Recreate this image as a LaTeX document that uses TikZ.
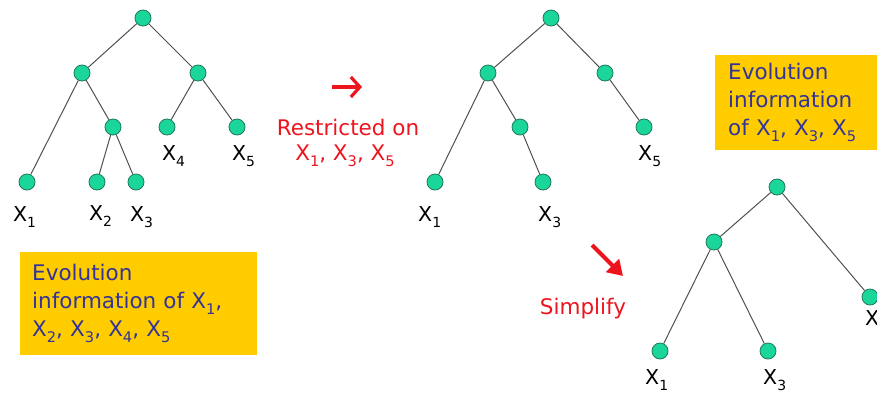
\documentclass[tikz,border=0pt]{standalone}
\usepackage{fontspec}
\setmainfont{DejaVu Sans}
\usetikzlibrary{arrows.meta}
\definecolor{nodegreen}{RGB}{26,214,154}
\definecolor{nodeborder}{RGB}{30,120,90}
\definecolor{edgegray}{RGB}{80,80,80}
\definecolor{boxgold}{RGB}{255,204,0}
\definecolor{textblue}{RGB}{51,51,153}
\definecolor{arrowred}{RGB}{238,20,30}
\newcommand{\Xsub}[1]{X\raisebox{-0.3em}{\scalebox{0.68}{#1}}}
\tikzset{
  tn/.style={circle, draw=nodeborder, fill=nodegreen, minimum size=16pt, inner sep=0pt, line width=0.8pt},
  edge/.style={draw=edgegray, line width=1pt},
  lbl/.style={anchor=base west, inner sep=0pt, text=black, font=\fontsize{20.5}{24}\selectfont},
  infobox/.style={fill=boxgold, text=textblue, align=left, anchor=north west, inner xsep=12pt, inner ysep=0pt, font=\fontsize{21.5}{28}\selectfont},
  redtxt/.style={text=arrowred, anchor=base, inner sep=0pt, font=\fontsize{21.5}{26}\selectfont},
  redarrow/.style={draw=arrowred, line width=3.2pt}
}
\begin{document}
\begin{tikzpicture}[x=1pt,y=-1pt]
\useasboundingbox (0,0) rectangle (877,394);
\clip (0,0) rectangle (877,394);
% tree 1
\node[tn] (a0) at (143,18) {};
\node[tn] (a1) at (82,73) {};
\node[tn] (a2) at (198,73) {};
\node[tn] (a3) at (113,127) {};
\node[tn] (a4) at (167,127) {};
\node[tn] (a5) at (237,127) {};
\node[tn] (a6) at (27,182) {};
\node[tn] (a7) at (97,182) {};
\node[tn] (a8) at (136,182) {};
\draw[edge] (a0) -- (a1);
\draw[edge] (a0) -- (a2);
\draw[edge] (a1) -- (a6);
\draw[edge] (a1) -- (a3);
\draw[edge] (a3) -- (a7);
\draw[edge] (a3) -- (a8);
\draw[edge] (a2) -- (a4);
\draw[edge] (a2) -- (a5);
\node[lbl] (la1) at (13,221) {\Xsub{1}};
\node[lbl] (la2) at (89,220) {\Xsub{2}};
\node[lbl] (la3) at (130,221) {\Xsub{3}};
\node[lbl] (la4) at (162,160) {\Xsub{4}};
\node[lbl] (la5) at (232,160) {\Xsub{5}};
% tree 2
\node[tn] (b0) at (551,18) {};
\node[tn] (b1) at (488,73) {};
\node[tn] (b2) at (605,73) {};
\node[tn] (b3) at (520,127) {};
\node[tn] (b4) at (644,127) {};
\node[tn] (b5) at (435,182) {};
\node[tn] (b6) at (543,182) {};
\draw[edge] (b0) -- (b1);
\draw[edge] (b0) -- (b2);
\draw[edge] (b1) -- (b5);
\draw[edge] (b1) -- (b3);
\draw[edge] (b3) -- (b6);
\draw[edge] (b2) -- (b4);
\node[lbl] (lb1) at (418,221) {\Xsub{1}};
\node[lbl] (lb3) at (538,221) {\Xsub{3}};
\node[lbl] (lb5) at (638,160) {\Xsub{5}};
% tree 3
\node[tn] (c0) at (777,187) {};
\node[tn] (c1) at (714,242) {};
\node[tn] (c2) at (870,297) {};
\node[tn] (c3) at (660,351) {};
\node[tn] (c4) at (768,351) {};
\draw[edge] (c0) -- (c1);
\draw[edge] (c0) -- (c2);
\draw[edge] (c1) -- (c3);
\draw[edge] (c1) -- (c4);
\node[lbl] (lc1) at (645,384) {\Xsub{1}};
\node[lbl] (lc3) at (763,384) {\Xsub{3}};
\node[lbl] (lc5) at (865,325) {\Xsub{5}};
% info boxes
\node[infobox, minimum width=237pt, minimum height=103pt, text width=213pt] (info1) at (20,252)
  {Evolution\\information of \Xsub{1},\\\Xsub{2}, \Xsub{3}, \Xsub{4}, \Xsub{5}};
\node[infobox, inner xsep=13pt, minimum width=162pt, minimum height=95pt, text width=136pt] (info2) at (715,55)
  {Evolution\\information\\of \Xsub{1}, \Xsub{3}, \Xsub{5}};
% red annotations
\coordinate (r1s) at (332,87);
\coordinate (r1e) at (362,87);
\draw[redarrow, -{Straight Barb[length=9pt,width=20pt,line width=3.2pt]}] (r1s) -- (r1e);
\node[redtxt] (restr) at (348,135) {Restricted on};
\node[redtxt] (restrx) at (345,160) {\Xsub{1}, \Xsub{3}, \Xsub{5}};
\coordinate (r2s) at (592,245);
\coordinate (r2e) at (623,276);
\draw[redarrow, line width=4pt, -{Triangle[length=15pt,width=18pt]}] (r2s) -- (r2e);
\node[redtxt] (simp) at (583,314) {Simplify};
\end{tikzpicture}
\end{document}
